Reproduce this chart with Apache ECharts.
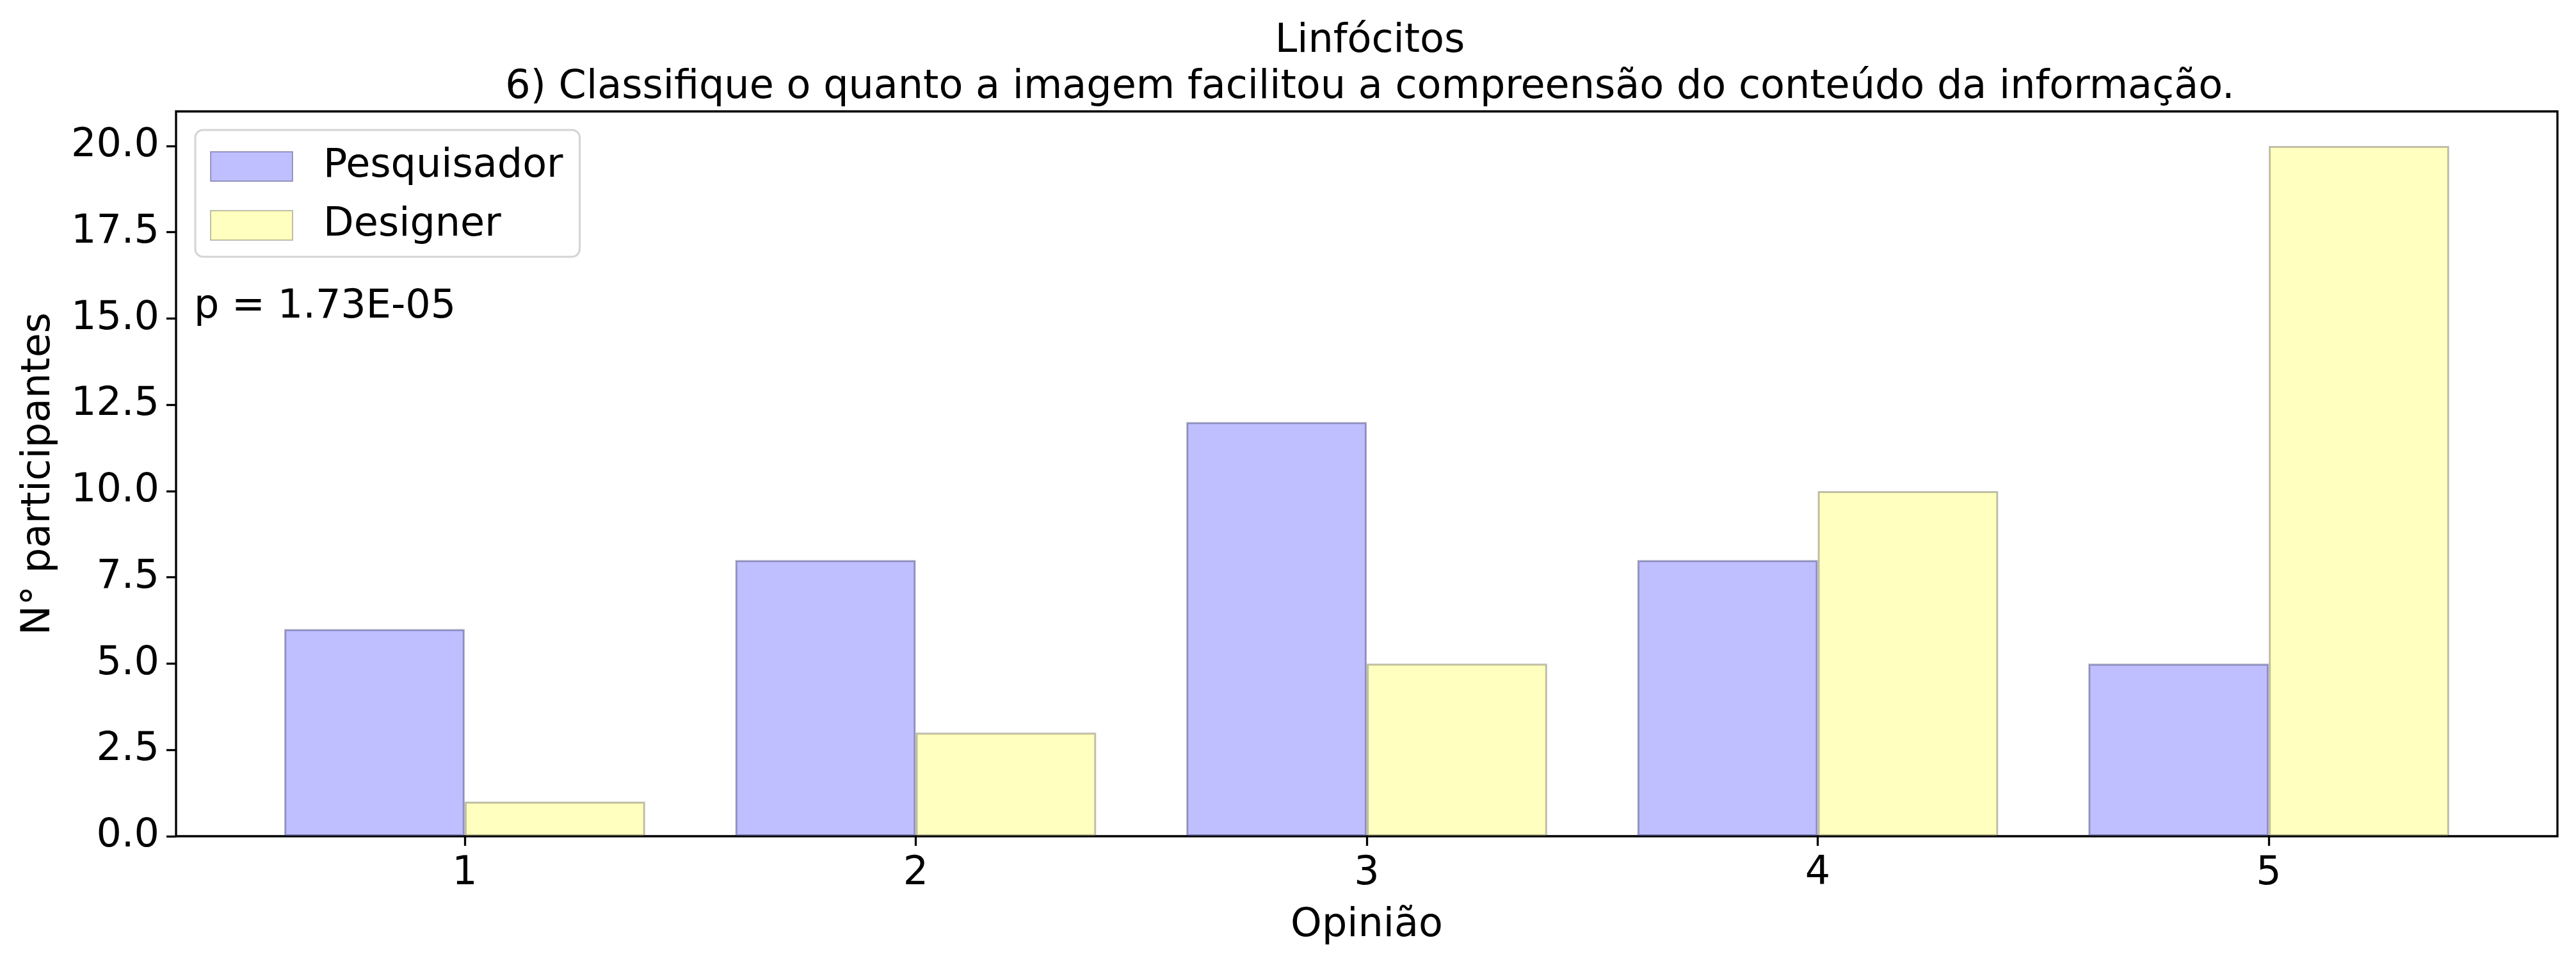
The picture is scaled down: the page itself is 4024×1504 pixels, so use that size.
<!DOCTYPE html>
<html>
<head>
<meta charset="utf-8">
<script src="https://cdn.jsdelivr.net/npm/echarts@6/dist/echarts.min.js"></script>
<style>
html,body{margin:0;padding:0;background:#fff;}
#chart{width:4024px;height:1504px;}
</style>
</head>
<body>
<div id="chart"></div>
<script>
// dados do gráfico
var opinioes = [1, 2, 3, 4, 5];
var pesquisador = [6, 8, 12, 8, 5];
var designer = [1, 3, 5, 10, 20];
var yTicks = [0, 2.5, 5, 7.5, 10, 12.5, 15, 17.5, 20];
var seriesNames = ['Pesquisador', 'Designer'];
var pValue = 'p = 1.73E-05';

var W = 4024, H = 1504;
var gLeft = 275, gRight = 29, gTop = 174, gBottom = 198;
var xMin = 0.36, xMax = 5.64;
var barW = (W - gLeft - gRight) / (xMax - xMin) * 0.4;
var font = 'DejaVu Sans';
var fs = 62;

function pairs(vals){
	return opinioes.map(function(o, i){ return [o, vals[i]]; });
}

var chart = echarts.init(document.getElementById('chart'));
var option = {
	backgroundColor: '#fff',
	animation: false,
	textStyle: {fontFamily: font},
	title: {
		text: 'Linfócitos\n6) Classifique o quanto a imagem facilitou a compreensão do conteúdo da informação.',
		left: (gLeft + W - gRight) / 2,
		top: 24,
		textAlign: 'center',
		textStyle: {fontFamily: font, fontSize: fs, fontWeight: 'normal', color: '#000', lineHeight: 72}
	},
	legend: {
		data: seriesNames,
		orient: 'vertical',
		left: 305,
		top: 203,
		icon: 'rect',
		itemWidth: 128,
		itemHeight: 46,
		itemGap: 30,
		padding: [26, 26, 18, 23],
		backgroundColor: '#fff',
		borderColor: '#d4d4d4',
		borderWidth: 3,
		borderRadius: 12,
		textStyle: {fontFamily: font, fontSize: fs, color: '#000', padding: [0, 0, 0, 43]}
	},
	grid: {
		left: gLeft, right: gRight, top: gTop, bottom: gBottom,
		show: true, borderColor: '#000', borderWidth: 3.3
	},
	xAxis: {
		type: 'value',
		min: xMin,
		max: xMax,
		name: 'Opinião',
		nameLocation: 'middle',
		nameGap: 109,
		nameTextStyle: {fontFamily: font, fontSize: fs, color: '#000'},
		axisLine: {show: false},
		axisTick: {show: true, length: 15, lineStyle: {color: '#000', width: 3.3}, customValues: opinioes},
		axisLabel: {fontFamily: font, fontSize: fs, color: '#000', margin: 28, customValues: opinioes,
			formatter: function(v){ return String(v); }},
		splitLine: {show: false}
	},
	yAxis: {
		type: 'value',
		min: 0,
		max: 21,
		name: 'N° participantes',
		nameLocation: 'middle',
		nameGap: 183,
		nameTextStyle: {fontFamily: font, fontSize: fs, color: '#000'},
		axisLine: {show: false},
		axisTick: {show: true, length: 15, lineStyle: {color: '#000', width: 3.3}, customValues: yTicks},
		axisLabel: {fontFamily: font, fontSize: fs, color: '#000', margin: 26, customValues: yTicks,
			formatter: function(v){ return v.toFixed(1); }},
		splitLine: {show: false}
	},
	graphic: [{
		type: 'text',
		left: 303,
		top: 477 - 28,
		style: {text: pValue, font: fs + 'px "' + font + '"', fill: '#000'}
	}],
	series: [
		{
			name: seriesNames[0],
			type: 'bar',
			barWidth: barW,
			barGap: '0%',
			itemStyle: {color: 'rgb(191,191,255)', borderColor: 'rgba(0,0,60,0.32)', borderWidth: 3},
			data: pairs(pesquisador)
		},
		{
			name: seriesNames[1],
			type: 'bar',
			barWidth: barW,
			barGap: '0%',
			itemStyle: {color: 'rgb(255,255,191)', borderColor: 'rgba(0,0,0,0.25)', borderWidth: 3},
			data: pairs(designer)
		}
	]
};
chart.setOption(option);
</script>
</body>
</html>
